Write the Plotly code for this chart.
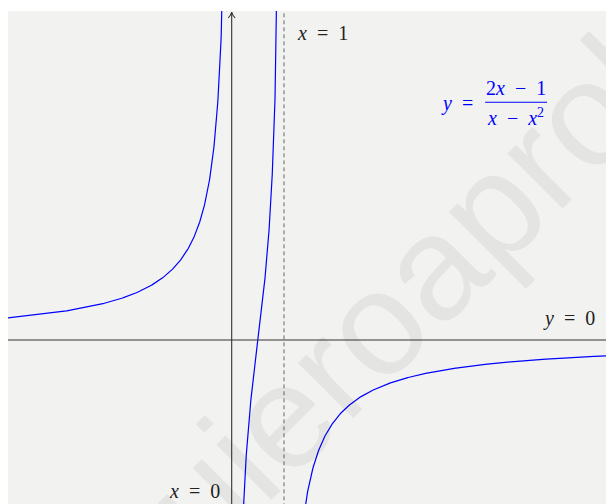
import numpy as np
import plotly.graph_objects as go

# visible window (units)
x_range = [-4.277, 7.157]
y_range = [-3.136, 6.29]

# branches of y = (2x-1)/(x-x^2), split at the asymptotes x=0 and x=1
branches = [(-4.3, -0.1), (0.05, 0.95), (1.05, 7.2)]
v_asymptotes = [0, 1]
h_asymptote = 0

BLUE = "#0000ff"
BG = "#f2f3f1"
AXIS = "#333333"
MATH = "Liberation Serif"
SP = "&nbsp;&nbsp;"

xs, ys = [], []
for a, b in branches:
    x = np.linspace(a, b, 800)
    y = (2 * x - 1) / (x - x ** 2)
    xs += list(x) + [None]
    ys += list(y) + [None]

fig = go.Figure()
fig.add_trace(go.Scatter(x=xs, y=ys, mode="lines",
                         line=dict(color=BLUE, width=1.2),
                         hoverinfo="skip", showlegend=False))

# x axis line
fig.add_shape(type="line", x0=x_range[0] - 1, x1=x_range[1] + 1, y0=h_asymptote, y1=h_asymptote,
              line=dict(color=AXIS, width=1.1), layer="above")
# y axis line + arrow head
fig.add_shape(type="line", x0=v_asymptotes[0], x1=v_asymptotes[0], y0=y_range[0] - 1, y1=6.26,
              line=dict(color=AXIS, width=1.1), layer="above")
fig.add_shape(type="path", path="M -0.065,6.16 Q -0.012,6.21 0,6.27 Q 0.012,6.21 0.065,6.16",
              line=dict(color=AXIS, width=1.1), layer="above")
# dashed asymptote x=1
fig.add_shape(type="line", x0=v_asymptotes[1], x1=v_asymptotes[1], y0=y_range[0] - 1, y1=y_range[1] + 1,
              line=dict(color="#666666", width=1, dash="4px,3px"), layer="above")
# fraction bar
fig.add_shape(type="line", x0=4.845, x1=6.03, y0=4.545, y1=4.545,
              line=dict(color=BLUE, width=1.1))


def label(text, x, y, anchor, color="#222222"):
    return dict(text=text, x=x, y=y, xanchor=anchor, yanchor="middle", showarrow=False,
                font=dict(family=MATH, size=20, color=color))


annotations = [
    # watermark
    dict(text="yoquieroaprobar", xref="paper", yref="paper", x=0.6254, y=0.3813,
         showarrow=False, textangle=-45, xanchor="center", yanchor="middle",
         font=dict(family="Liberation Sans", size=148, color="rgba(0,0,0,0.055)")),
    label("<i>x</i>" + SP + "=" + SP + "1", 1.21, 5.86, "left"),
    label("<i>y</i>" + SP + "=" + SP + "0", 6.985, 0.42, "right"),
    label("<i>x</i>" + SP + "=" + SP + "0", -0.185, -2.88, "right"),
    label("<i>y</i>" + SP + "=", 4.652, 4.53, "right", BLUE),
    label("2<i>x</i>" + SP + "−" + SP + "1", 5.427, 4.81, "center", BLUE),
    label("<i>x</i>" + SP + "−" + SP + "<i>x</i><sup>2</sup>", 5.436, 4.27, "center", BLUE),
]

fig.update_layout(
    width=606, height=504,
    margin=dict(l=8, r=0, t=11, b=0),
    paper_bgcolor="white", plot_bgcolor=BG,
    xaxis=dict(range=x_range, visible=False, fixedrange=True),
    yaxis=dict(range=y_range, visible=False, fixedrange=True),
    annotations=annotations,
    showlegend=False,
)

fig.write_html("out.html", config={"displayModeBar": False},
               post_script="document.body.style.margin='0';")
